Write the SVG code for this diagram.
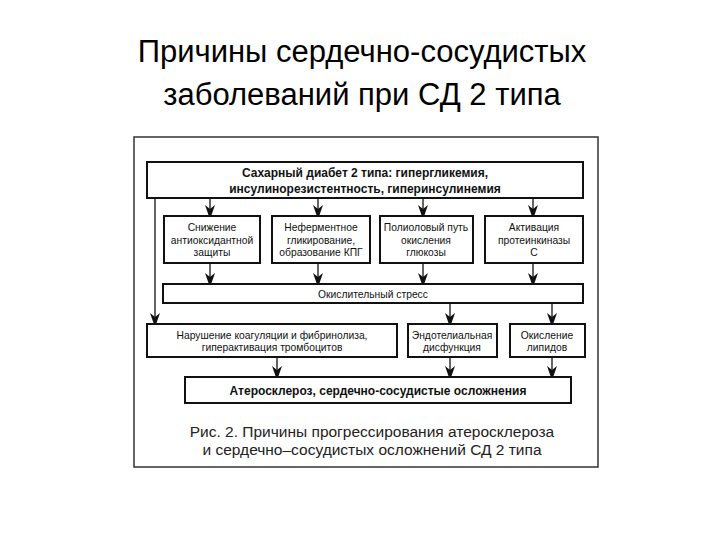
<svg xmlns="http://www.w3.org/2000/svg" width="720" height="540" viewBox="0 0 720 540">
<style>
.title{font-family:"Liberation Sans",Arial,sans-serif;font-size:31px;fill:#000;text-anchor:middle}
.box{fill:#fff;stroke:#111;stroke-width:2}
.t{font-family:"Liberation Sans",Arial,sans-serif;font-size:10.3px;fill:#111;text-anchor:middle}
.b{font-family:"Liberation Sans",Arial,sans-serif;font-size:12px;font-weight:bold;fill:#111;text-anchor:middle}
.cap{font-family:"Liberation Sans",Arial,sans-serif;font-size:15.5px;fill:#222;text-anchor:middle}
.ln{stroke:#111;stroke-width:1.3;fill:none}
</style>
<rect width="720" height="540" fill="#fff"/>
<text class="title" x="362" y="62">Причины сердечно-сосудистых</text>
<text class="title" x="362" y="105">заболеваний при СД 2 типа</text>
<rect x="134" y="137" width="464" height="330" fill="none" stroke="#333" stroke-width="1.5"/>
<g id="connectors">
<line class="ln" x1="155" y1="198" x2="155" y2="318"/>
<g fill="#111">
<path d="M150,313 L155,317 L160,313 L156.5,323 L153.5,323 Z"/>
<path d="M205,205 L210,209 L215,205 L211.5,215 L208.5,215 Z"/>
<path d="M313,205 L318,209 L323,205 L319.5,215 L316.5,215 Z"/>
<path d="M418,205 L423,209 L428,205 L424.5,215 L421.5,215 Z"/>
<path d="M528,205 L533,209 L538,205 L534.5,215 L531.5,215 Z"/>
<path d="M205,273 L210,277 L215,273 L211.5,283 L208.5,283 Z"/>
<path d="M313,273 L318,277 L323,273 L319.5,283 L316.5,283 Z"/>
<path d="M418,273 L423,277 L428,273 L424.5,283 L421.5,283 Z"/>
<path d="M528,273 L533,277 L538,273 L534.5,283 L531.5,283 Z"/>
<path d="M445,313 L450,317 L455,313 L451.5,323 L448.5,323 Z"/>
<path d="M547,313 L552,317 L557,313 L553.5,323 L550.5,323 Z"/>
<path d="M272,366 L277,370 L282,366 L278.5,376 L275.5,376 Z"/>
<path d="M445,366 L450,370 L455,366 L451.5,376 L448.5,376 Z"/>
<path d="M547,366 L552,370 L557,366 L553.5,376 L550.5,376 Z"/>
</g>
<g class="ln">
<line x1="210" y1="198" x2="210" y2="210"/>
<line x1="318" y1="198" x2="318" y2="210"/>
<line x1="423" y1="198" x2="423" y2="210"/>
<line x1="533" y1="198" x2="533" y2="210"/>
<line x1="210" y1="263" x2="210" y2="278"/>
<line x1="318" y1="263" x2="318" y2="278"/>
<line x1="423" y1="263" x2="423" y2="278"/>
<line x1="533" y1="263" x2="533" y2="278"/>
<line x1="450" y1="303" x2="450" y2="318"/>
<line x1="552" y1="303" x2="552" y2="318"/>
<line x1="277" y1="357" x2="277" y2="371"/>
<line x1="450" y1="357" x2="450" y2="371"/>
<line x1="552" y1="357" x2="552" y2="371"/>
</g>
</g>
<g id="n_top">
<rect class="box" x="147" y="162" width="436" height="36"/>
<text class="b" x="365" y="177">Сахарный диабет 2 типа: гипергликемия,</text>
<text class="b" x="365" y="193">инсулинорезистентность, гиперинсулинемия</text>
</g>
<g id="n_antiox">
<rect class="box" x="164" y="216" width="96" height="47"/>
<text class="t" x="212" y="231">Снижение</text>
<text class="t" x="212" y="243.5">антиоксидантной</text>
<text class="t" x="212" y="256">защиты</text>
</g>
<g id="n_glyc">
<rect class="box" x="272" y="216" width="98" height="47"/>
<text class="t" x="321" y="231">Неферментное</text>
<text class="t" x="321" y="243.5">гликирование,</text>
<text class="t" x="321" y="256">образование КПГ</text>
</g>
<g id="n_polyol">
<rect class="box" x="380" y="216" width="93" height="47"/>
<text class="t" x="426" y="231">Полиоловый путь</text>
<text class="t" x="426" y="243.5">окисления</text>
<text class="t" x="426" y="256">глюкозы</text>
</g>
<g id="n_pkc">
<rect class="box" x="485" y="216" width="98" height="47"/>
<text class="t" x="534" y="231">Активация</text>
<text class="t" x="534" y="243.5">протеинкиназы</text>
<text class="t" x="534" y="256">С</text>
</g>
<g id="n_stress">
<rect class="box" x="163" y="284" width="420" height="19"/>
<text class="t" x="373" y="297.5">Окислительный стресс</text>
</g>
<g id="n_coag">
<rect class="box" x="147" y="324" width="250" height="33"/>
<text class="t" x="272" y="338.5">Нарушение коагуляции и фибринолиза,</text>
<text class="t" x="272" y="350.5">гиперактивация тромбоцитов</text>
</g>
<g id="n_endo">
<rect class="box" x="408" y="324" width="89" height="33"/>
<text class="t" x="452" y="338.5">Эндотелиальная</text>
<text class="t" x="452" y="350.5">дисфункция</text>
</g>
<g id="n_lipid">
<rect class="box" x="510" y="324" width="75" height="33"/>
<text class="t" x="547" y="338.5">Окисление</text>
<text class="t" x="547" y="350.5">липидов</text>
</g>
<g id="n_athero">
<rect class="box" x="185" y="377" width="386" height="26"/>
<text class="b" x="378" y="394.5">Атеросклероз, сердечно-сосудистые осложнения</text>
</g>
<text class="cap" x="372" y="437">Рис. 2. Причины прогрессирования атеросклероза</text>
<text class="cap" x="372" y="455">и сердечно–сосудистых осложнений СД 2 типа</text>
</svg>
